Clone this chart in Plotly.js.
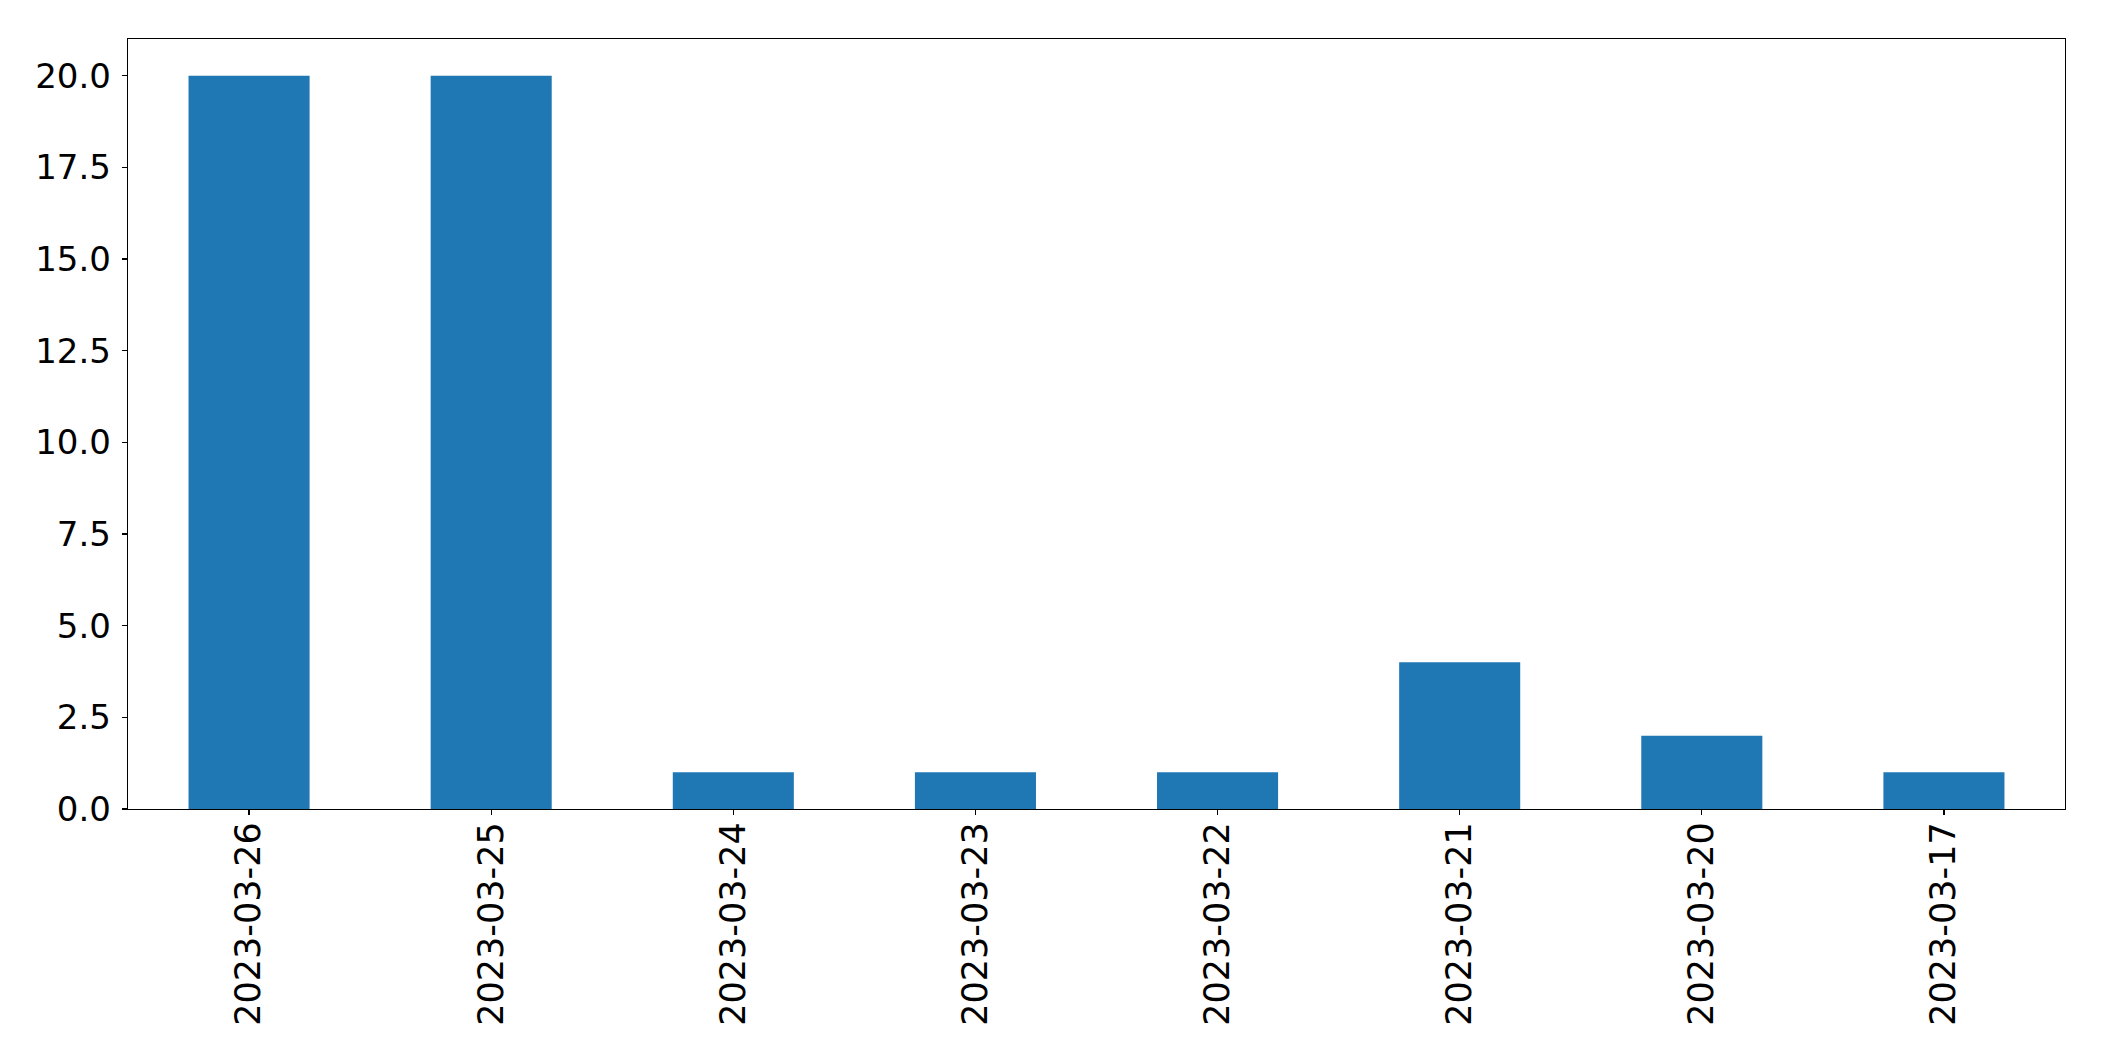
<!DOCTYPE html>
<html>
<head>
<meta charset="utf-8">
<script src="https://cdn.plot.ly/plotly-3.0.1.min.js"></script>
<style>html,body{margin:0;padding:0;background:#fff;}#chart{width:2104px;height:1061px;}</style>
</head>
<body>
<div id="chart"></div>
<script>
const dates = ["2023-03-26","2023-03-25","2023-03-24","2023-03-23","2023-03-22","2023-03-21","2023-03-20","2023-03-17"];
const counts = [20, 20, 1, 1, 1, 4, 2, 1];
const yTicks = [0, 2.5, 5, 7.5, 10, 12.5, 15, 17.5, 20];

const trace = {
  type: 'bar',
  x: dates,
  y: counts,
  width: 0.5,
  marker: {color: '#1f77b4', line: {width: 0}},
  hoverinfo: 'x+y'
};

const layout = {
  width: 2104, height: 1061,
  margin: {l: 128, r: 39, t: 39, b: 252, pad: 0},
  paper_bgcolor: '#fff', plot_bgcolor: '#fff',
  showlegend: false,
  bargap: 0.5,
  xaxis: {
    type: 'category',
    range: [-0.5, 7.5],
    tickangle: -90,
    tickfont: {family: 'DejaVu Sans', size: 35, color: '#000'},
    ticks: 'outside', ticklen: 5, tickwidth: 1.3, tickcolor: '#000',
    showline: true, linecolor: '#000', linewidth: 1.3, mirror: true,
    showgrid: false, zeroline: false,
    ticklabelstandoff: -7
  },
  yaxis: {
    range: [0, 21],
    tickvals: yTicks,
    ticktext: yTicks.map(v => v.toFixed(1)),
    tickfont: {family: 'DejaVu Sans', size: 34, color: '#000'},
    ticks: 'outside', ticklen: 5, tickwidth: 1.3, tickcolor: '#000',
    showline: true, linecolor: '#000', linewidth: 1.3, mirror: true,
    showgrid: false, zeroline: false,
    ticklabelstandoff: 4
  }
};

Plotly.newPlot('chart', [trace], layout, {displayModeBar: false, staticPlot: true});
</script>
</body>
</html>
